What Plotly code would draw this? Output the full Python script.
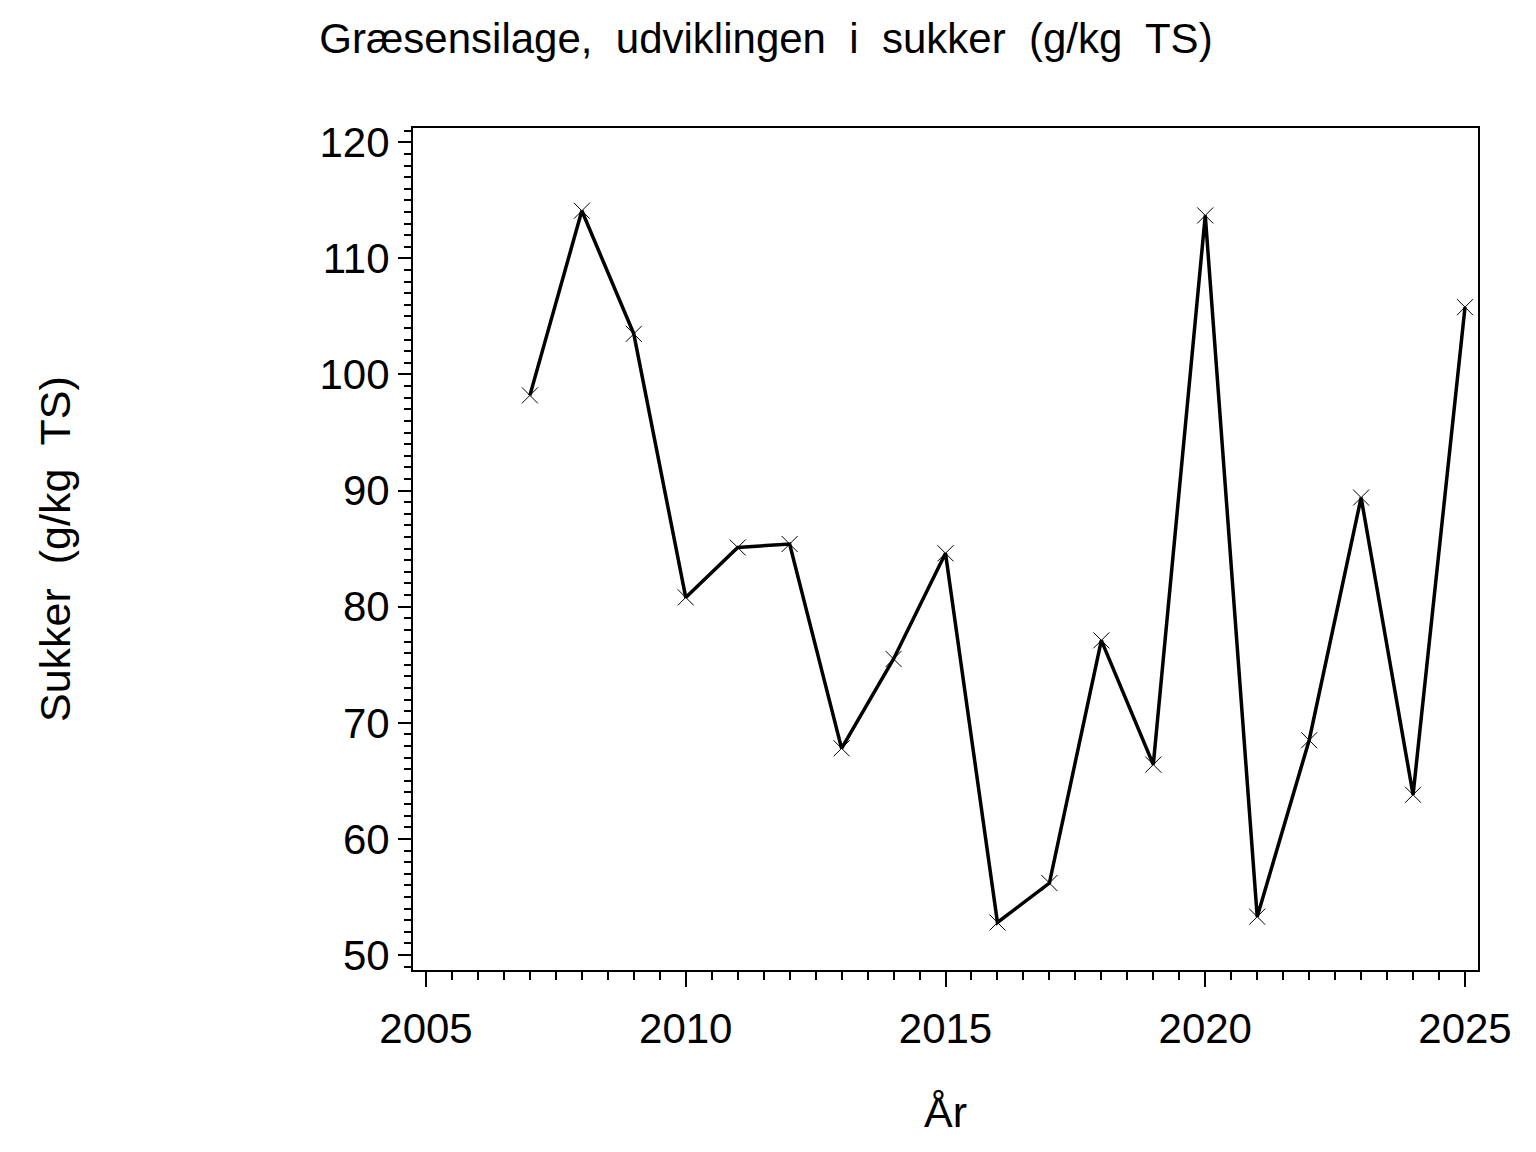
import plotly.graph_objects as go

years = [2007, 2008, 2009, 2010, 2011, 2012, 2013, 2014, 2015, 2016,
         2017, 2018, 2019, 2020, 2021, 2022, 2023, 2024, 2025]
sukker = [98.2, 114.1, 103.5, 80.8, 85.1, 85.4, 67.8, 75.5, 84.6, 52.8,
          56.2, 77.1, 66.4, 113.7, 53.3, 68.5, 89.4, 63.8, 105.8]

x_ticks = [2005, 2010, 2015, 2020, 2025]
y_ticks = [50, 60, 70, 80, 90, 100, 110, 120]

title_text = "Græsensilage,  udviklingen  i  sukker  (g/kg  TS)"
x_title = "År"
y_title = "Sukker  (g/kg  TS)"

FONT = "Liberation Sans, Arial, sans-serif"
OFF = 8  # page body margin

W, H = 1536, 1152
L, T = 413 - OFF, 128 - OFF
R = (W + OFF) - 1478
B = (H + OFF) - 970
PW = W - L - R
PH = H - T - B

fig = go.Figure()
fig.add_trace(go.Scatter(
    x=years, y=sukker, mode="lines+markers",
    line=dict(color="black", width=3.5),
    marker=dict(symbol="x-thin", size=16, line=dict(color="black", width=1)),
    showlegend=False,
))

axis_common = dict(
    showgrid=False, zeroline=False, showline=True, linecolor="black", linewidth=2,
    mirror=True, ticks="outside", tickcolor="black", tickwidth=2,
    tickfont=dict(family=FONT, size=42, color="black"),
)

fig.update_xaxes(
    range=[2004.75, 2025.25], tickvals=x_ticks, ticklen=15, ticklabelstandoff=6,
    minor=dict(dtick=0.5, ticks="outside", ticklen=8, tickcolor="black", tickwidth=1.5, showgrid=False, tick0=2005),
    **axis_common,
)
fig.update_yaxes(
    range=[48.71, 121.23], tickvals=y_ticks, ticklen=13,
    minor=dict(dtick=1, ticks="outside", ticklen=7, tickcolor="black", tickwidth=1.5, showgrid=False, tick0=50),
    **axis_common,
)

fig.update_layout(
    width=W, height=H,
    margin=dict(l=L, r=R, t=T, b=B),
    plot_bgcolor="white", paper_bgcolor="white",
    title=dict(text=title_text, x=(766 - OFF) / W, xanchor="center", y=1 - (38 - OFF) / H, yanchor="middle",
               font=dict(family=FONT, size=42, color="black")),
    annotations=[
        dict(text=x_title, xref="paper", yref="paper", x=0.5, y=-(1112 - 970) / PH,
             xanchor="center", yanchor="middle", showarrow=False,
             font=dict(family=FONT, size=43, color="black")),
        dict(text=y_title, xref="paper", yref="paper", x=(55 - 413) / PW, y=0.5,
             xanchor="center", yanchor="middle", showarrow=False, textangle=-90,
             font=dict(family=FONT, size=43, color="black")),
    ],
)

fig.write_html("out.html")
